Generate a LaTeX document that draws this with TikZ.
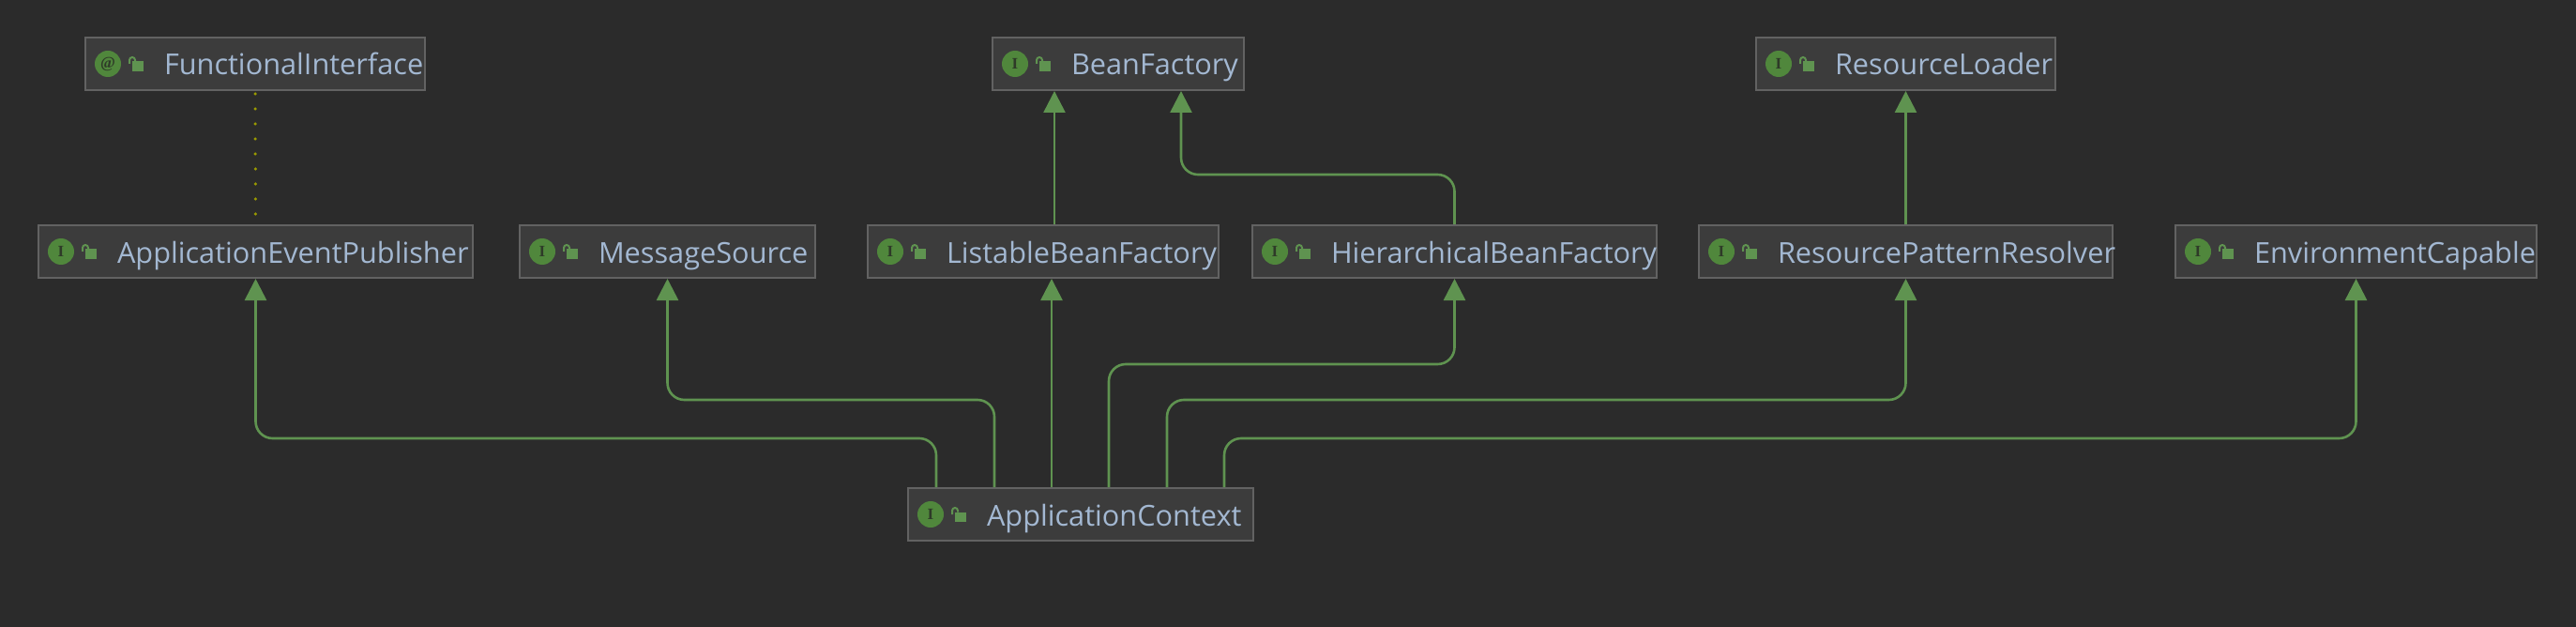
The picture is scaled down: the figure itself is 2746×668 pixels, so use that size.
\documentclass[tikz,border=0pt]{standalone}
\usepackage{fontspec}
\setmainfont{Open Sans}
\newfontfamily\iconfont{Liberation Serif}
\usetikzlibrary{arrows.meta}
\definecolor{bgdark}{HTML}{2B2B2B}
\definecolor{boxfill}{HTML}{3C3C3C}
\definecolor{boxline}{HTML}{626262}
\definecolor{ifgreen}{HTML}{5F9350}
\definecolor{icongreen}{HTML}{50873C}
\definecolor{icontext}{HTML}{2E3A28}
\definecolor{txtblue}{HTML}{A3B8D2}
\definecolor{dotolive}{HTML}{9A9A00}
\tikzset{
  ifbox/.style={draw=boxline,fill=boxfill,line width=2pt,anchor=west,inner xsep=0pt,inner ysep=0pt,
    minimum height=56pt,text height=26pt,text depth=2pt,text=txtblue,align=left,
    font=\fontsize{30.7}{32}\selectfont},
  extends/.style={color=ifgreen,line width=2.6pt,rounded corners=18pt,-{Triangle[width=23pt,length=23pt]}},
}
\begin{document}
\begin{tikzpicture}[x=1pt,y=-1pt]
  \fill[bgdark] (0,0) rectangle (2746,668);
  \useasboundingbox (0,0) rectangle (2746,668);
  \foreach \nm/\xl/\xr/\yc/\sym/\txt in
    {fi/90/452/68/@/FunctionalInterface, bf/1057/1325/68/I/BeanFactory, rl/1871/2190/68/I/ResourceLoader,
     pub/40/503/268/I/ApplicationEventPublisher, ms/553/868/268/I/MessageSource,
     lbf/924/1298/268/I/ListableBeanFactory, hbf/1334/1765/268/I/HierarchicalBeanFactory,
     rpr/1810/2251/268/I/ResourcePatternResolver, ec/2318/2703/268/I/EnvironmentCapable,
     ctx/967/1335/548/I/ApplicationContext}
  {
    \node[ifbox,text width={\xr-\xl}] (\nm) at (\xl,\yc) {\hspace*{84pt}\mbox{\txt}};
    \fill[icongreen] ([xshift=25pt]\nm.west) circle(14pt);
    \node[text=icontext,inner sep=0pt,font=\iconfont\bfseries\fontsize{17}{17}\selectfont] (\nm-sym) at ([xshift=25pt]\nm.west) {\sym};
    % open lock
    \fill[ifgreen] ([xshift=51pt,yshift=-8pt]\nm.west) rectangle ++(12,-10.5);
    \draw[ifgreen,line width=2pt] ([xshift=48pt]\nm.west) -- ++(0,-4) arc(180:360:3) -- ++(0,1.5);
  }
  \draw[dotolive,line width=3.5pt,line cap=round,dash pattern=on 0pt off 16pt,shorten <=3pt,shorten >=10pt] (fi.south) -- (pub.north);
  \draw[extends] ([xshift=200pt]lbf.north west) -- ([xshift=200pt]lbf.north west |- bf.south);
  \draw[extends] (hbf.north) -- ++(0,-53) -| ([xshift=202pt]bf.south west);
  \draw[extends] (rpr.north) -- (rl.south);
  \draw[extends] ([xshift=31pt]ctx.north west) -- ++(0,-52) -| (pub.south);
  \draw[extends] ([xshift=93pt]ctx.north west) -- ++(0,-93) -| (ms.south);
  \draw[extends] ([xshift=154pt]ctx.north west) -- ([xshift=154pt]ctx.north west |- lbf.south);
  \draw[extends] ([xshift=215pt]ctx.north west) -- ++(0,-131) -| (hbf.south);
  \draw[extends] ([xshift=277pt]ctx.north west) -- ++(0,-93) -| (rpr.south);
  \draw[extends] ([xshift=338pt]ctx.north west) -- ++(0,-52) -| (ec.south);
\end{tikzpicture}
\end{document}
